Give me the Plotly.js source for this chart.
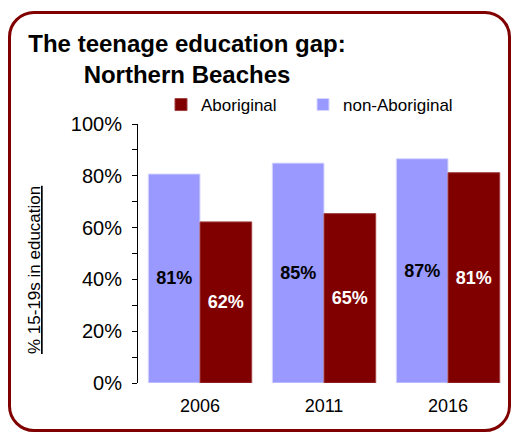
<!DOCTYPE html>
<html>
<head>
<meta charset="utf-8">
<script src="https://cdn.plot.ly/plotly-3.0.1.min.js"></script>
<style>
  html, body { margin: 0; padding: 0; background: #fff; }
  #wrap { position: relative; width: 513px; height: 434px; overflow: hidden; }
  #frame { position: absolute; left: 8px; top: 11px; width: 503px; height: 421px;
           border: 3px solid #800000; border-radius: 26px; box-sizing: border-box; }
  #chart { position: absolute; left: 0; top: 0; width: 513px; height: 434px; }
</style>
</head>
<body>
<div id="wrap">
  <div id="frame"></div>
  <div id="chart"></div>
</div>
<script>
const years = ['2006', '2011', '2016'];
const nonAboriginal = [0.807, 0.849, 0.866];
const aboriginal = [0.622, 0.654, 0.812];
const seriesNames = ['non-Aboriginal', 'Aboriginal'];
const tickVals = [0, 0.2, 0.4, 0.6, 0.8, 1.0];
const tickText = ['0%', '20%', '40%', '60%', '80%', '100%'];

const FONT = 'Arial, "Liberation Sans", sans-serif';

const traces = [
  {
    type: 'bar', name: seriesNames[0], x: years, y: nonAboriginal, legend: 'legend2',
    marker: { color: '#9999FF', line: { color: '#D8D8FF', width: 1 } },
    texttemplate: '<b>%{y:.0%}</b>', textposition: 'inside', insidetextanchor: 'middle',
    textangle: 0, constraintext: 'none',
    textfont: { family: FONT, size: 18, color: '#000000' },
    hoverinfo: 'skip'
  },
  {
    type: 'bar', name: seriesNames[1], x: years, y: aboriginal, legend: 'legend',
    marker: { color: '#800000', line: { color: '#A04040', width: 1 } },
    texttemplate: '<b>%{y:.0%}</b>', textposition: 'inside', insidetextanchor: 'middle',
    textangle: 0, constraintext: 'none',
    textfont: { family: FONT, size: 18, color: '#FFFFFF' },
    hoverinfo: 'skip'
  }
];

const legendCommon = {
  orientation: 'h',
  xref: 'container', yref: 'container', xanchor: 'left',
  y: 1 - 105 / 434, yanchor: 'middle',
  font: { family: FONT, size: 17, color: '#000000' },
  bgcolor: 'rgba(0,0,0,0)', borderwidth: 0
};

const layout = {
  width: 513, height: 434,
  paper_bgcolor: 'rgba(0,0,0,0)', plot_bgcolor: 'rgba(0,0,0,0)',
  margin: { l: 138, r: 3, t: 124, b: 51, pad: 0 },
  font: { family: FONT, color: '#000000' },
  barmode: 'group', bargap: 0.166, bargroupgap: 0,
  showlegend: true,
  title: {
    text: '<b>The teenage education gap:<br>Northern Beaches</b>',
    font: { family: FONT, size: 24, color: '#000000' },
    xref: 'container', yref: 'container',
    x: 187 / 513, xanchor: 'center',
    y: 1 - 52 / 434, yanchor: 'top'
  },
  legend: Object.assign({}, legendCommon, { x: 161 / 513 }),
  legend2: Object.assign({}, legendCommon, { x: 303 / 513 }),
  xaxis: {
    type: 'category', showgrid: false, zeroline: false, showline: false,
    ticks: '', tickfont: { family: FONT, size: 18, color: '#000000' },
    ticklabelstandoff: 10,
    fixedrange: true
  },
  yaxis: {
    range: [0, 1], tickvals: tickVals, ticktext: tickText,
    showgrid: false, zeroline: false,
    showline: true, linecolor: '#000000', linewidth: 1,
    ticks: 'outside', ticklen: 5, tickcolor: '#000000', tickwidth: 1,
    minor: { dtick: 0.1, tick0: 0, ticks: 'outside', ticklen: 5, tickcolor: '#000000', tickwidth: 1, showgrid: false },
    tickfont: { family: FONT, size: 20, color: '#000000' },
    ticklabelstandoff: 6,
    fixedrange: true
  },
  annotations: [{
    text: '<u>% 15-19s in education</u>',
    textangle: -90, showarrow: false,
    xref: 'paper', yref: 'paper',
    x: (34 - 138) / 372, y: (383 - 270) / 259,
    xanchor: 'center', yanchor: 'middle',
    font: { family: FONT, size: 17, color: '#000000' }
  }]
};

Plotly.newPlot('chart', traces, layout, { displayModeBar: false, staticPlot: true });
</script>
</body>
</html>
